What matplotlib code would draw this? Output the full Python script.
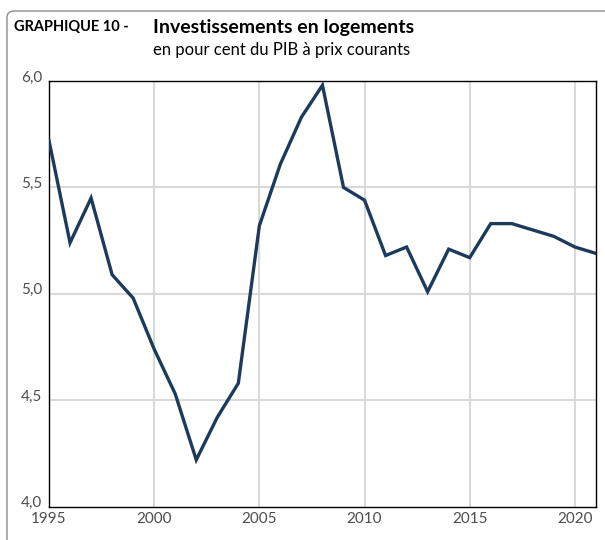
import matplotlib
matplotlib.use("Agg")
import matplotlib.pyplot as plt
import matplotlib.transforms as mtransforms
from matplotlib.patches import FancyBboxPatch

# investissements en logements, % du PIB
years = list(range(1995, 2022))
values = [5.72, 5.24, 5.45, 5.09, 4.98, 4.74, 4.53, 4.22, 4.42, 4.58,
          5.32, 5.61, 5.83, 5.98, 5.50, 5.44, 5.18, 5.22, 5.01, 5.21,
          5.17, 5.33, 5.33, 5.30, 5.27, 5.22, 5.19]

x_ticks = [1995, 2000, 2005, 2010, 2015, 2020]
y_ticks = [4.0, 4.5, 5.0, 5.5, 6.0]

plt.rcParams['font.family'] = ['Lato', 'DejaVu Sans']

fig = plt.figure(figsize=(6.05, 5.4), dpi=100)
ax = fig.add_axes([0.081, 0.0617, 0.904, 0.7883])

# cadre gris en haut et à gauche
frame = FancyBboxPatch((7 / 605, -0.1), 1.2, 1 - 11 / 540 + 0.1,
                       boxstyle="round,pad=0,rounding_size=0.012",
                       transform=fig.transFigure, fill=False,
                       edgecolor="#8c8c8c", lw=1.0, clip_on=False)
fig.add_artist(frame)

ax.plot(years, values, color="#1c3a5c", lw=2.4, solid_joinstyle="miter", zorder=3)

ax.set_xlim(1995, 2021)
ax.set_ylim(4.0, 6.0)
ax.set_xticks(x_ticks)
ax.set_yticks(y_ticks)
ax.set_yticklabels([f"{v:.1f}".replace(".", ",") for v in y_ticks])
ax.tick_params(length=0, labelsize=11, colors="#4d4d4d", pad=4)
ax.tick_params(axis="y", pad=5)

for gx in x_ticks[1:]:
    ax.axvline(gx, color="#d9d9d9", lw=1.5, zorder=1)
for gy in y_ticks[1:-1]:
    ax.axhline(gy, color="#d9d9d9", lw=1.5, zorder=1)

for s in ax.spines.values():
    s.set_color("black")
    s.set_linewidth(1.0)

# étiquettes y un peu relevées
offset = mtransforms.ScaledTranslation(0, 5 / 100, fig.dpi_scale_trans)
for lbl in ax.get_yticklabels():
    lbl.set_transform(lbl.get_transform() + offset)

fig.text(14 / 605, 1 - 27 / 540, "GRAPHIQUE 10 -", fontsize=10.5, fontweight="bold",
         va="center", ha="left", color="black")
fig.text(153 / 605, 1 - 27 / 540, "Investissements en logements", fontsize=14,
         fontweight="bold", va="center", ha="left", color="black")
fig.text(153 / 605, 1 - 50 / 540, "en pour cent du PIB à prix courants", fontsize=12,
         va="center", ha="left", color="black")

fig.savefig("out.png", dpi=100)
